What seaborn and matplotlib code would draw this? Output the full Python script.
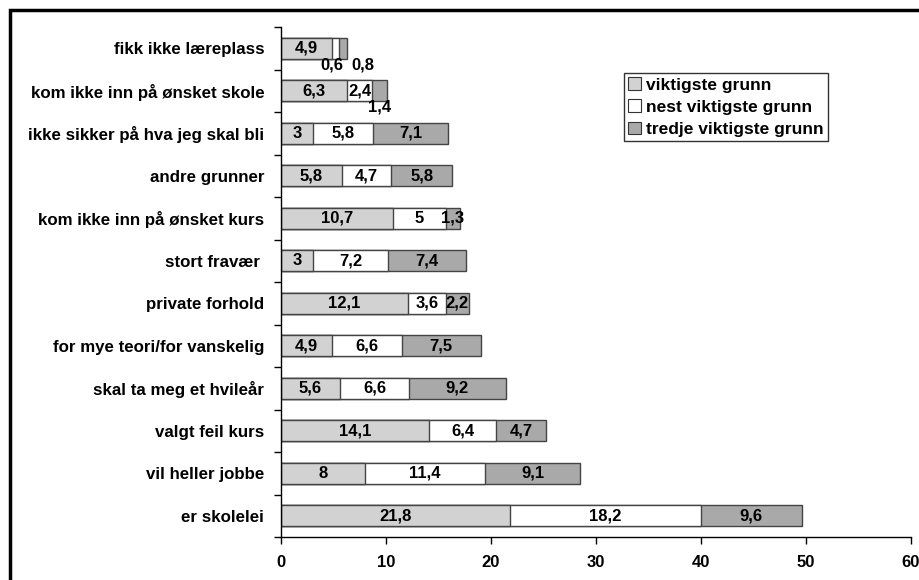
import numpy as np
import pandas as pd
import seaborn as sns
import matplotlib.pyplot as plt
from matplotlib.patches import Patch, Rectangle

categories = ['fikk ikke læreplass', 'kom ikke inn på ønsket skole',
              'ikke sikker på hva jeg skal bli', 'andre grunner',
              'kom ikke inn på ønsket kurs', 'stort fravær ',
              'private forhold', 'for mye teori/for vanskelig',
              'skal ta meg et hvileår', 'valgt feil kurs',
              'vil heller jobbe', 'er skolelei']
viktigste = [4.9, 6.3, 3, 5.8, 10.7, 3, 12.1, 4.9, 5.6, 14.1, 8, 21.8]
nest = [0.6, 2.4, 5.8, 4.7, 5, 7.2, 3.6, 6.6, 6.6, 6.4, 11.4, 18.2]
tredje = [0.8, 1.4, 7.1, 5.8, 1.3, 7.4, 2.2, 7.5, 9.2, 4.7, 9.1, 9.6]
series_names = ['viktigste grunn', 'nest viktigste grunn', 'tredje viktigste grunn']
colors = ['#d2d2d2', '#ffffff', '#a9a9a9']

df = pd.DataFrame({'kat': categories, 'v1': viktigste, 'v2': nest, 'v3': tredje})
df['c1'] = df['v1']
df['c2'] = df['v1'] + df['v2']
df['c3'] = df['c2'] + df['v3']

sns.set_style('white')
plt.rcParams['font.family'] = ['Liberation Sans', 'DejaVu Sans']
plt.rcParams['text.color'] = 'black'
plt.rcParams['xtick.color'] = 'black'
plt.rcParams['ytick.color'] = 'black'

fig = plt.figure(figsize=(9.19, 5.8), dpi=100)
ax = fig.add_axes([0.3058, 0.0741, 0.6855, 0.8793])

# stacked bars: draw cumulative totals back to front
for col, c in zip(['c3', 'c2', 'c1'], colors[::-1]):
    sns.barplot(data=df, x=col, y='kat', color=c, edgecolor='#444444',
                linewidth=1.0, width=0.5, saturation=1, ax=ax, orient='h')

# value labels
fmt = lambda v: ('%g' % v).replace('.', ',')
below = {(0, 'v2'): -3, (0, 'v3'): 14, (1, 'v3'): 0}
for i, row in df.iterrows():
    starts = [0, row['c1'], row['c2']]
    for k, s in zip(['v1', 'v2', 'v3'], starts):
        v = row[k]
        xc = s + v / 2
        if (i, k) in below:
            ax.annotate(fmt(v), (xc, i), xytext=(below[(i, k)], -12),
                        textcoords='offset points', ha='center', va='center',
                        fontsize=12, fontweight='bold')
        else:
            ax.text(xc, i, fmt(v), ha='center', va='center', fontsize=12,
                    fontweight='bold')

ax.set_xlim(0, 60)
ax.set_ylim(len(categories) - 0.5, -0.5)
ax.set_xticks(np.arange(0, 61, 10))
ax.set_xticklabels([str(t) for t in range(0, 61, 10)], fontsize=12,
                   fontweight='bold')
ax.set_yticks(range(len(categories)))
ax.set_yticklabels(categories, fontsize=12.2, fontweight='bold')
ax.set_yticks(np.arange(-0.5, len(categories), 1), minor=True)
ax.tick_params(axis='y', which='major', length=0, pad=12)
ax.tick_params(axis='y', which='minor', length=5, width=1, direction='out', left=True)
ax.tick_params(axis='x', length=5, width=1, direction='out', bottom=True, pad=8)
ax.set_xlabel('')
ax.set_ylabel('')
for s in ['top', 'right']:
    ax.spines[s].set_visible(False)
for s in ['left', 'bottom']:
    ax.spines[s].set_color('black')
    ax.spines[s].set_linewidth(1)

handles = [Patch(facecolor=c, edgecolor='#333333', linewidth=0.8) for c in colors]
leg = ax.legend(handles, series_names, loc='upper left',
                bbox_to_anchor=((624 - 281) / 630, 1 - (73 - 27) / 510),
                frameon=True, fancybox=False, edgecolor='black',
                prop={'weight': 'bold', 'size': 12.5},
                handlelength=0.7, handleheight=0.7, handletextpad=0.3,
                borderpad=0.25, labelspacing=0.4, borderaxespad=0)
leg.get_frame().set_linewidth(1)

# outer frame
fig.patches.append(Rectangle((10 / 919, -0.1), 1.2, 1 - 10 / 580 + 0.1,
                             transform=fig.transFigure, fill=False,
                             edgecolor='black', linewidth=2.5))

fig.savefig('out.png', dpi=100)
